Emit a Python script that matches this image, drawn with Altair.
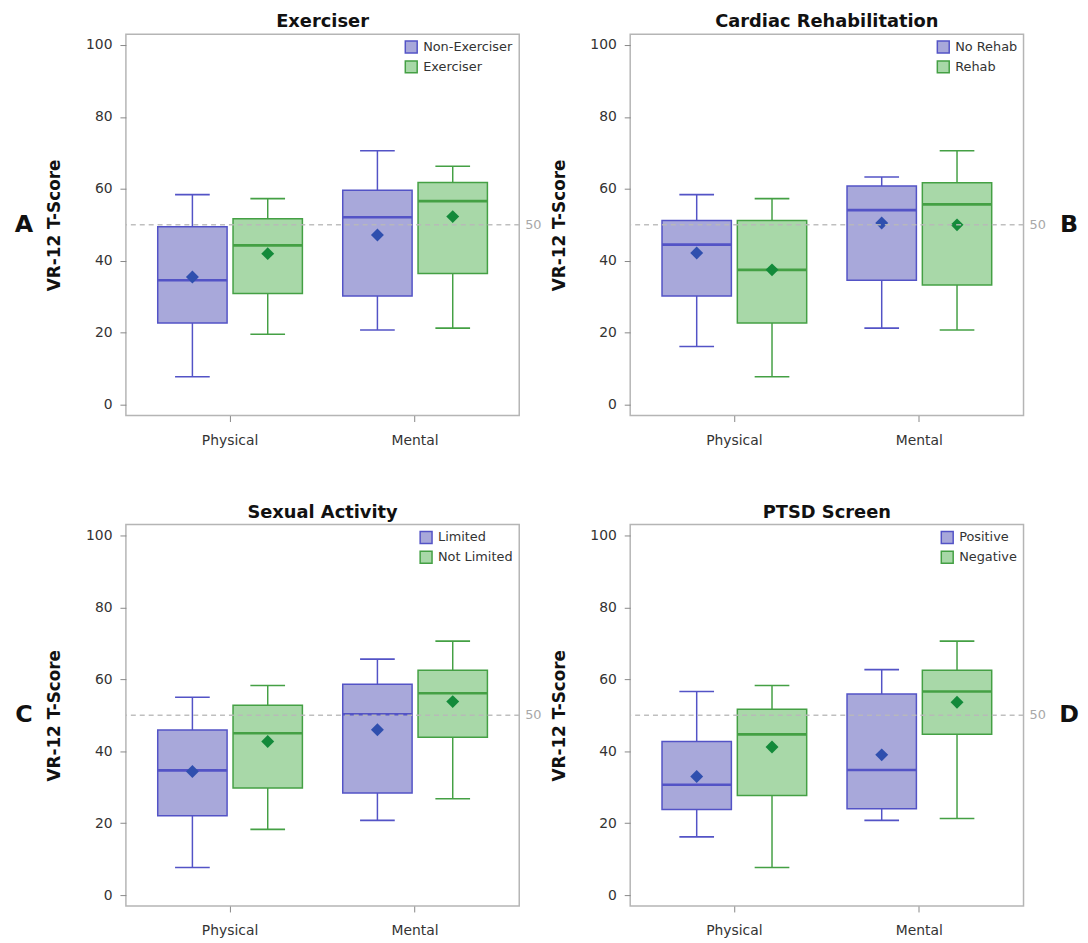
import altair as alt
import pandas as pd

# ---------------- data ----------------
measures = ["Physical", "Mental"]
titles = ["Exerciser", "Cardiac Rehabilitation", "Sexual Activity", "PTSD Screen"]
letters = ["A", "B", "C", "D"]
group_names = [
    ["Non-Exerciser", "Exerciser"],
    ["No Rehab", "Rehab"],
    ["Limited", "Not Limited"],
    ["Positive", "Negative"],
]
# order in each panel: [group1-Physical, group2-Physical, group1-Mental, group2-Mental]
whisker_low = [
    [7.8, 19.6, 20.8, 21.3],
    [16.2, 7.8, 21.3, 20.8],
    [7.7, 18.3, 20.8, 26.8],
    [16.2, 7.7, 20.8, 21.3],
]
q1 = [
    [22.7, 30.9, 30.2, 36.5],
    [30.2, 22.7, 34.6, 33.3],
    [22.1, 29.8, 28.4, 43.9],
    [23.8, 27.7, 24.0, 44.7],
]
median = [
    [34.6, 44.3, 52.1, 56.6],
    [44.5, 37.5, 54.1, 55.7],
    [34.7, 45.0, 50.3, 56.1],
    [30.7, 44.7, 34.8, 56.6],
]
q3 = [
    [49.5, 51.7, 59.6, 61.8],
    [51.2, 51.2, 60.8, 61.7],
    [45.9, 52.8, 58.6, 62.5],
    [42.7, 51.7, 55.9, 62.5],
]
whisker_high = [
    [58.4, 57.3, 70.6, 66.3],
    [58.4, 57.3, 63.3, 70.6],
    [55.0, 58.3, 65.6, 70.6],
    [56.6, 58.3, 62.7, 70.6],
]
means = [
    [35.5, 42.0, 47.2, 52.3],
    [42.2, 37.5, 50.5, 50.0],
    [34.4, 42.7, 46.0, 53.8],
    [33.0, 41.2, 39.0, 53.6],
]
reference_value = 50
y_ticks = [0, 20, 40, 60, 80, 100]

# ---------------- style ----------------
W, H = 397, 385
FILL = ["#a8a8da", "#a8d8a8"]
STROKE = ["#5353c6", "#44a044"]
MEANC = ["#2f4fae", "#138a3a"]
PAD_IN, PAD_OUT = 0.218, 0.172
PAD_IN_O = 0.079
step = W / (2 - PAD_IN + 2 * PAD_OUT)
band = step * (1 - PAD_IN)
step_o = band / (2 - PAD_IN_O)
box_w = step_o * (1 - PAD_IN_O)
FONT = "DejaVu Sans"


def panel(i):
    g = group_names[i]
    rows = []
    for k in range(4):
        rows.append(dict(
            measure=measures[k // 2], group=g[k % 2], gi=k % 2,
            low=whisker_low[i][k], q1=q1[i][k], med=median[i][k],
            q3=q3[i][k], high=whisker_high[i][k], mean=means[i][k],
        ))
    df = pd.DataFrame(rows)
    ref = pd.DataFrame({"ref": [reference_value], "letter": [letters[i]]})

    x = alt.X("measure:N", sort=measures,
              scale=alt.Scale(paddingInner=PAD_IN, paddingOuter=PAD_OUT),
              axis=alt.Axis(title=None, labelAngle=0))
    xo = alt.XOffset("group:N", sort=g,
                     scale=alt.Scale(domain=g, paddingInner=PAD_IN_O, paddingOuter=0))
    ysc = alt.Scale(domain=[-3, 103], nice=False, zero=False)
    yax = alt.Axis(values=y_ticks, title="VR-12 T-Score")

    def Y(f):
        return alt.Y(f, type="quantitative", scale=ysc, axis=yax)

    leg = alt.Legend(title=None, symbolType="square")
    stroke = alt.Stroke("group:N", sort=g, scale=alt.Scale(domain=g, range=STROKE), legend=leg)
    fill = alt.Fill("group:N", sort=g, scale=alt.Scale(domain=g, range=FILL), legend=leg)

    base = alt.Chart(df)
    layers = [
        base.mark_rule(strokeWidth=1.5, opacity=1).encode(
            x=x, xOffset=xo, y=Y("low"), y2="high", stroke=stroke),
        base.mark_bar(strokeWidth=1.5, opacity=1).encode(
            x=x, xOffset=xo, y=Y("q1"), y2="q3", fill=fill, stroke=stroke),
    ]
    for gi in (0, 1):
        sub = base.transform_filter(alt.datum.gi == gi)
        layers += [
            sub.mark_tick(size=box_w / 2, thickness=1.6, opacity=1, color=STROKE[gi]).encode(
                x=x, xOffset=xo, y=Y("low")),
            sub.mark_tick(size=box_w / 2, thickness=1.6, opacity=1, color=STROKE[gi]).encode(
                x=x, xOffset=xo, y=Y("high")),
            sub.mark_tick(size=box_w, thickness=2.6, opacity=1, color=STROKE[gi]).encode(
                x=x, xOffset=xo, y=Y("med")),
            sub.mark_point(shape="diamond", filled=True, size=170, opacity=1,
                           color=MEANC[gi]).encode(
                x=x, xOffset=xo, y=Y("mean")),
        ]

    rbase = alt.Chart(ref)
    layers += [
        rbase.mark_rule(strokeDash=[5, 4], color="#b8b8b8", strokeWidth=1.5, opacity=0.9).encode(
            y=Y("ref")),
        rbase.mark_text(align="left", baseline="middle", fontSize=13, color="#a8a8a8").encode(
            x=alt.value(W + 6), y=Y("ref"), text="ref:Q"),
        rbase.mark_text(align="center", baseline="middle", fontSize=24,
                        fontWeight="bold", color="#111").encode(
            x=alt.value(-103 if i % 2 == 0 else W + 46), y=Y("ref"), text="letter:N"),
    ]

    return alt.layer(*layers).properties(
        width=W, height=H,
        title=alt.TitleParams(titles[i], fontSize=18, fontWeight="bold", offset=3,
                              anchor="middle", color="#111"),
    )


chart = alt.concat(
    *[panel(i) for i in range(4)], columns=2,
    spacing={"row": 110, "column": 112}, bounds="flush",
).resolve_scale(
    x="independent", y="independent", xOffset="independent",
    fill="independent", stroke="independent",
).properties(
    padding={"left": 5, "top": 0, "right": 0, "bottom": 5}
).configure(
    font=FONT
).configure_view(
    stroke="#b5b5b5", strokeWidth=1.5
).configure_axis(
    grid=False, domain=False, tickColor="#888", tickSize=6,
    labelFontSize=14, labelColor="#333", labelPadding=8,
    titleFontSize=17, titleFontWeight="bold", titleColor="#111", titlePadding=22,
).configure_axisX(
    labelPadding=12
).configure_legend(
    orient="top-right", offset=6, padding=0, symbolType="square", symbolSize=144,
    symbolStrokeWidth=1.5, labelFontSize=13, labelColor="#333", labelOffset=5,
    rowPadding=2,
)

chart.save("out.html", embed_options={"renderer": "svg", "actions": False})
